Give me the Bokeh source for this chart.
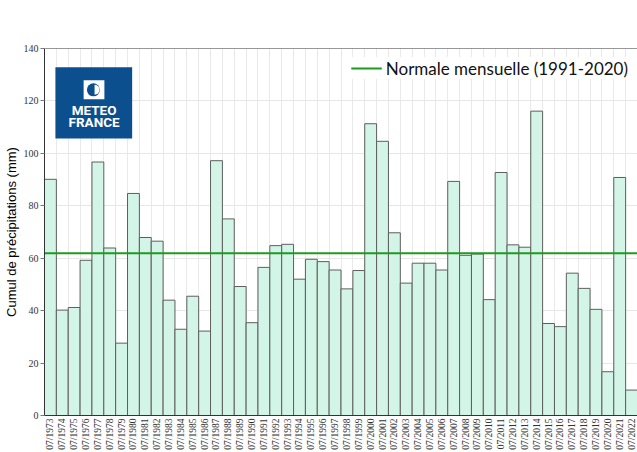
import math
from bokeh.plotting import figure
from bokeh.models import Range1d, FixedTicker, Span, Legend, LegendItem
from bokeh.core.properties import value
from bokeh.embed import file_html
from bokeh.resources import INLINE

# ---- data ----
years = list(range(1973, 2023))
tick_labels = [f"07/{y}" for y in years]
rain_mm = [90.1, 40.2, 41.2, 59.2, 96.7, 63.9, 27.6, 84.7, 67.9, 66.5,
           44.0, 32.9, 45.5, 32.2, 97.2, 75.0, 49.2, 35.4, 56.5, 64.8,
           65.3, 52.0, 59.6, 58.7, 55.5, 48.3, 55.3, 111.3, 104.6, 69.7,
           50.5, 58.1, 58.1, 55.5, 89.3, 61.1, 61.6, 44.2, 92.7, 65.1,
           64.2, 116.1, 35.1, 33.9, 54.3, 48.5, 40.5, 16.7, 90.8, 9.7]
normal_mm = 61.9
normal_label = "Normale mensuelle (1991-2020)"
y_label = "Cumul de précipitations (mm)"

n = len(rain_mm)
xpos = list(range(1, n + 1))

p = figure(width=637, height=452, output_backend="svg", toolbar_location=None,
           x_range=Range1d(0.5, n + 0.5), y_range=Range1d(0, 140),
           min_border=0, min_border_left=30, min_border_top=48,
           min_border_right=0, min_border_bottom=0)
p.background_fill_color = "white"
p.border_fill_color = "white"
p.outline_line_color = None

# grid
p.xgrid.ticker = FixedTicker(ticks=[x + 0.5 for x in range(0, n + 1)])
p.xgrid.grid_line_color = "#e9e9e9"
p.ygrid.grid_line_color = "#e6e6e6"
p.ygrid.ticker = FixedTicker(ticks=list(range(0, 141, 20)))

# bars
p.vbar(x=xpos, top=rain_mm, width=1.0, bottom=0,
       fill_color="#d3f5e8", line_color="#5e5e5e", line_width=1)

# normal line
nl = p.line(x=[0.5, n + 0.5], y=[normal_mm, normal_mm], line_color="#1e9a1e", line_width=2)

# top border
p.add_layout(Span(location=140, dimension="width", line_color="#333333", line_width=1))

# logo (decoration)
p.quad(left=[1.42], right=[7.89], bottom=[105.7], top=[132.8],
       fill_color="#0b4f8f", line_color=None)
p.quad(left=[3.8], right=[5.55], bottom=[120.6], top=[127.9],
       fill_color="white", line_color=None)
p.scatter(x=[4.62], y=[124.25], size=13, fill_color="#0b4f8f", line_color=None)
p.wedge(x=[4.72], y=[124.25], radius=5, radius_units="screen",
        start_angle=-math.pi / 2, end_angle=math.pi / 2,
        fill_color="white", line_color=None)
p.text(x=[4.68, 4.68], y=[116.6, 111.9], text=["METEO", "FRANCE"],
       text_color="white", text_font=value("Roboto"), text_font_style="bold",
       text_font_size="13.5px", text_align="center", text_baseline="middle")

# axes
p.xaxis.ticker = FixedTicker(ticks=xpos)
p.xaxis.major_label_overrides = {x: lab for x, lab in zip(xpos, tick_labels)}
p.xaxis.major_label_orientation = math.pi / 2
p.xaxis.major_tick_line_color = None
p.xaxis.major_tick_out = 0
p.xaxis.major_tick_in = 0
p.xaxis.minor_tick_line_color = None
p.xaxis.axis_line_color = "#333333"
p.xaxis.major_label_text_font = "Liberation Sans Narrow"
p.xaxis.major_label_text_font_size = "9.5px"
p.xaxis.major_label_text_color = "#333333"
p.xaxis.major_label_standoff = 3

p.yaxis.ticker = FixedTicker(ticks=list(range(0, 141, 20)))
p.yaxis.minor_tick_line_color = None
p.yaxis.major_tick_out = 4
p.yaxis.major_tick_in = 0
p.yaxis.axis_line_color = "#333333"
p.yaxis.major_tick_line_color = "#777777"
p.yaxis.major_label_text_font = "Liberation Sans Narrow"
p.yaxis.major_label_text_font_size = "10px"
p.yaxis.major_label_text_color = "#333333"
p.yaxis.major_label_standoff = 2
p.yaxis.axis_label = y_label
p.yaxis.axis_label_text_font = "Liberation Sans"
p.yaxis.axis_label_text_font_style = "normal"
p.yaxis.axis_label_text_font_size = "13px"
p.yaxis.axis_label_text_color = "black"
p.yaxis.axis_label_standoff = 2

legend = Legend(items=[LegendItem(label=normal_label, renderers=[nl])],
                location="top_right", background_fill_color="white",
                background_fill_alpha=1.0, border_line_color=None,
                label_text_font="Lato", label_text_font_size="17px",
                label_text_color="#111111", glyph_width=31, glyph_height=18,
                label_height=22, label_standoff=4, padding=9, margin=9)
p.add_layout(legend)

open("out.html", "w").write(file_html(p, INLINE))
